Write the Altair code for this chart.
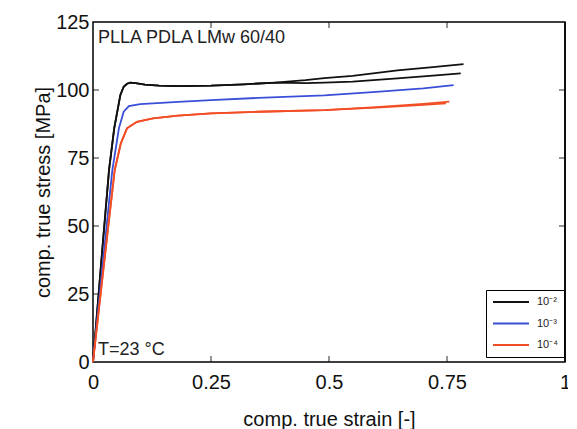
import altair as alt
import pandas as pd

# ---- data ----
black_common_strain = [0, 0.02, 0.034, 0.045, 0.058, 0.065, 0.072, 0.079, 0.09, 0.11, 0.14, 0.18, 0.25, 0.32, 0.386]
black_common_stress = [0, 42, 70.6, 86, 98.2, 101.2, 102.3, 102.7, 102.5, 102.0, 101.6, 101.4, 101.6, 102.1, 102.7]
black_a_tail_strain = [0.45, 0.49, 0.55, 0.645, 0.72, 0.785]
black_a_tail_stress = [103.6, 104.4, 105.2, 107.2, 108.4, 109.5]
black_b_tail_strain = [0.45, 0.49, 0.55, 0.645, 0.72, 0.779]
black_b_tail_stress = [102.5, 102.7, 103.1, 104.3, 105.3, 106.1]

blue_strain = [0, 0.02, 0.041, 0.055, 0.065, 0.076, 0.1, 0.127, 0.18, 0.25, 0.35, 0.49, 0.6, 0.7, 0.764]
blue_stress = [0, 35, 70.6, 86, 92, 94.1, 94.8, 95.1, 95.6, 96.3, 97.1, 98.0, 99.3, 100.6, 101.8]

red_strain = [0, 0.02, 0.046, 0.059, 0.072, 0.093, 0.127, 0.18, 0.25, 0.35, 0.49, 0.6, 0.7, 0.748]
red_a_stress = [0, 31, 70.6, 80.4, 85.9, 88.3, 89.6, 90.6, 91.4, 92.0, 92.6, 93.5, 94.5, 95.1]
red_b_strain = [0.49, 0.6, 0.7, 0.755]
red_b_stress = [92.6, 93.7, 94.9, 95.7]

series_names = ["10⁻²", "10⁻³", "10⁻⁴"]
series_colors = ["#111111", "#3a4fd8", "#f24e26"]

x_ticks = [0, 0.25, 0.5, 0.75, 1]
y_ticks = [0, 25, 50, 75, 100, 125]

sample_label = "PLLA PDLA LMw 60/40"
temp_label = "T=23 °C"

rows = []
def add(series, run, xs, ys):
    for i, (a, b) in enumerate(zip(xs, ys)):
        rows.append({"series": series, "run": run, "strain": a, "stress": b, "idx": i})

add(series_names[0], "b1", black_common_strain + black_a_tail_strain, black_common_stress + black_a_tail_stress)
add(series_names[0], "b2", black_common_strain + black_b_tail_strain, black_common_stress + black_b_tail_stress)
add(series_names[1], "u1", blue_strain, blue_stress)
add(series_names[2], "r1", red_strain, red_a_stress)
n_common = red_strain.index(0.49)
add(series_names[2], "r2", red_strain[:n_common] + red_b_strain, red_a_stress[:n_common] + red_b_stress)
df = pd.DataFrame(rows)

FONT = "Liberation Sans"
xs = alt.Scale(domain=[0, 1], nice=False, zero=False)
ys = alt.Scale(domain=[0, 125], nice=False, zero=False)
XT = "comp. true strain [-]"
YT = "comp. true stress [MPa]"

x_axis = alt.Axis(values=x_ticks, format=".2~f", ticks=False, domain=False, grid=False,
                  labelFontSize=20, titleFontSize=20, labelPadding=10, titlePadding=17,
                  titleFontWeight="normal", labelFont=FONT, titleFont=FONT,
                  labelColor="#111", titleColor="#111", labelFlush=False, labelOverlap=False)
y_axis = alt.Axis(values=y_ticks, format="d", ticks=False, domain=False, grid=False,
                  labelFontSize=20, titleFontSize=20, labelPadding=4, titlePadding=2,
                  titleFontWeight="normal", labelFont=FONT, titleFont=FONT,
                  labelColor="#111", titleColor="#111", labelFlush=False, labelOverlap=False)

lines = alt.Chart(df).mark_line(strokeWidth=1.8).encode(
    x=alt.X("strain:Q", scale=xs, axis=x_axis, title=XT),
    y=alt.Y("stress:Q", scale=ys, axis=y_axis, title=YT),
    color=alt.Color("series:N", scale=alt.Scale(domain=series_names, range=series_colors),
                    legend=alt.Legend(title=None, orient="none", legendX=393, legendY=268,
                                      symbolType="stroke", symbolSize=1296, symbolStrokeWidth=1.8,
                                      labelFontSize=11, labelFont=FONT, labelColor="#222",
                                      labelOffset=7, strokeColor="black", fillColor="white",
                                      padding=6, clipHeight=12, rowPadding=9.5)),
    detail="run:N",
    order="idx:Q",
)

xt_df = pd.DataFrame({"v": x_ticks[1:-1]})
yt_df = pd.DataFrame({"w": y_ticks[1:-1]})

tick_style = dict(color="black", size=6, thickness=1.2)
bottom_ticks = alt.Chart(xt_df).mark_tick(orient="vertical", yOffset=-3, **tick_style).encode(
    x=alt.X("v:Q", scale=xs, title=XT), y=alt.YDatum(0, title=YT))
top_ticks = alt.Chart(xt_df).mark_tick(orient="vertical", yOffset=3, **tick_style).encode(
    x=alt.X("v:Q", scale=xs, title=XT), y=alt.YDatum(125, title=YT))
left_ticks = alt.Chart(yt_df).mark_tick(orient="horizontal", xOffset=3, **tick_style).encode(
    y=alt.Y("w:Q", scale=ys, title=YT), x=alt.XDatum(0, title=XT))
right_ticks = alt.Chart(yt_df).mark_tick(orient="horizontal", xOffset=-3, **tick_style).encode(
    y=alt.Y("w:Q", scale=ys, title=YT), x=alt.XDatum(1, title=XT))

# explicit right frame edge (drawn on the data scales)
frame_df = pd.DataFrame({"xr": [x_ticks[-1]], "y0": [y_ticks[0]], "y1": [y_ticks[-1]]})
right_edge = alt.Chart(frame_df).mark_rule(color="black", strokeWidth=1.5).encode(
    x=alt.X("xr:Q", scale=xs, title=XT), y=alt.Y("y0:Q", scale=ys, title=YT), y2="y1:Q")

sample_text = alt.Chart(pd.DataFrame({"t": [sample_label]})).mark_text(
    align="left", baseline="alphabetic", fontSize=18, font=FONT, color="#222").encode(
    text="t:N", x=alt.value(5), y=alt.value(21))
temp_text = alt.Chart(pd.DataFrame({"t": [temp_label]})).mark_text(
    align="left", baseline="alphabetic", fontSize=18, font=FONT, color="#222").encode(
    text="t:N", x=alt.value(5), y=alt.value(333))

chart = alt.layer(lines, bottom_ticks, top_ticks, left_ticks, right_ticks, right_edge,
                  sample_text, temp_text).properties(
    width=472, height=340,
    autosize=alt.AutoSizeParams(type="none"),
    padding={"left": 85, "top": 14, "right": 3, "bottom": 67},
    background="white",
).configure_view(stroke="black", strokeWidth=1.5)

chart.save("out.html", embed_options={"renderer": "svg", "actions": False})
